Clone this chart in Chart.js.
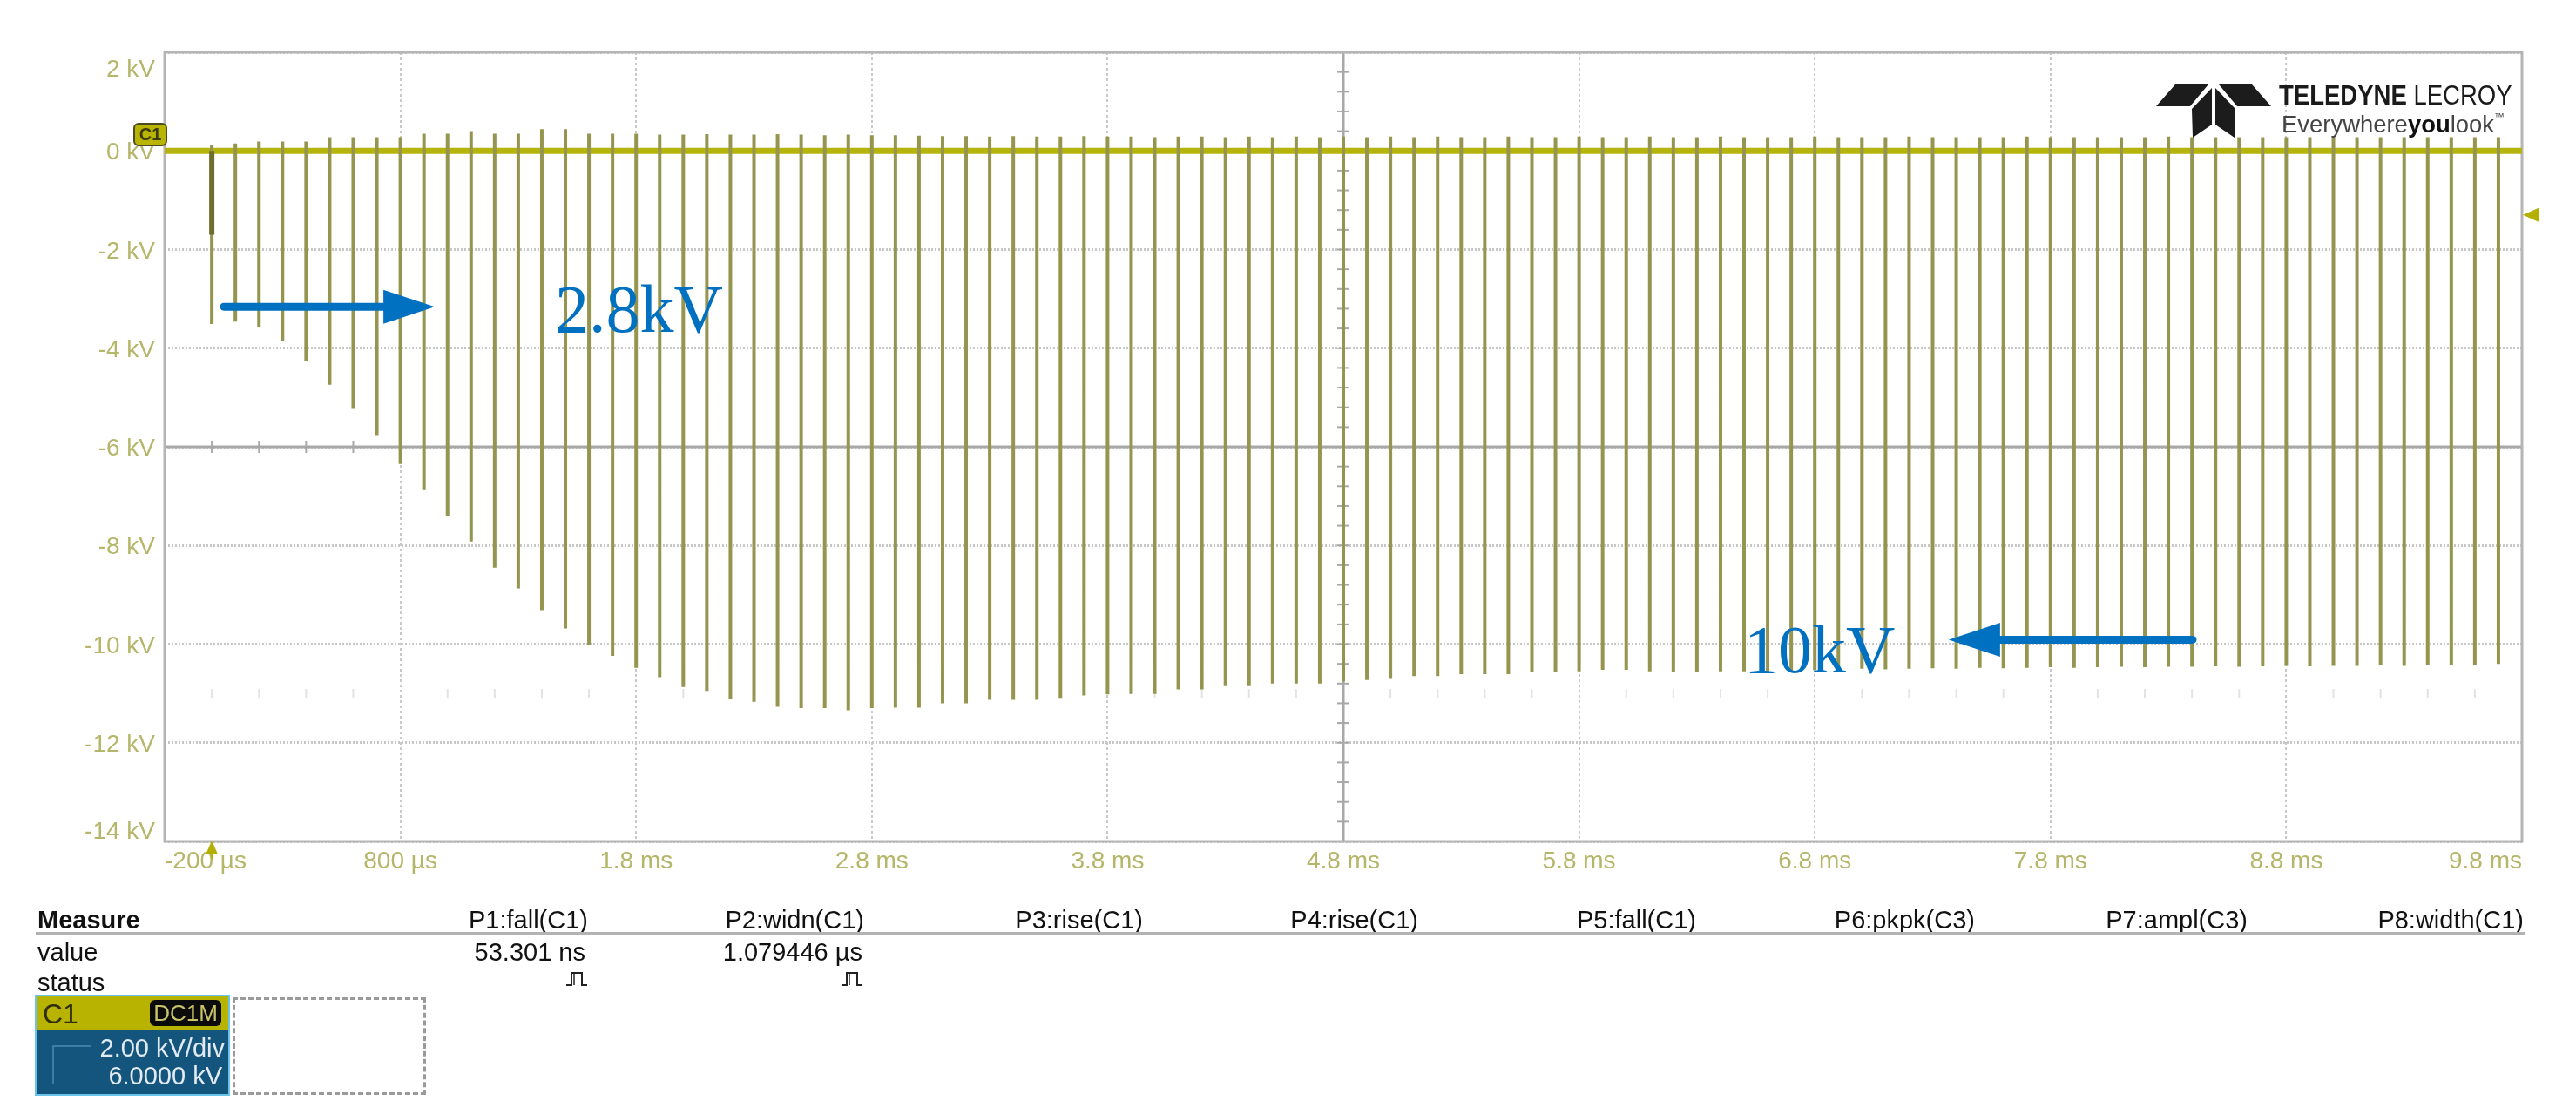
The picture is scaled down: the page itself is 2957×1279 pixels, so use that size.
<!DOCTYPE html>
<html>
<head>
<meta charset="utf-8">
<title>Pulse train C1</title>
<script src="https://cdn.jsdelivr.net/npm/chart.js@4.4.1/dist/chart.umd.min.js"></script>
<style>
  html, body { margin: 0; padding: 0; background: #ffffff; }
  #wrap { position: relative; width: 2957px; height: 1279px; overflow: hidden; background: #fff;
          font-family: "Liberation Sans", Arial, sans-serif; }
  #c { position: absolute; left: 0; top: 0; }
  .abs { position: absolute; white-space: nowrap; line-height: 1; }
  .t29 { font-size: 29px; color: #111; }
  .r { text-align: right; }
</style>
</head>
<body>
<div id="wrap">
  <canvas id="c" width="2957" height="1279"></canvas>

  <!-- channel badge on the 0 kV level -->
  <div class="abs" style="left:153px;top:141px;width:35px;height:23px;background:#b8b400;border:2px solid #4d4b22;border-radius:6px;font-size:20px;font-weight:bold;color:#3b3a12;text-align:center;line-height:23px;">C1</div>

  <!-- logo -->
  <svg class="abs" style="left:2470px;top:94px" width="145" height="70" viewBox="2470 94 145 70">
    <polygon points="2497,97 2535,97 2514,122 2475,122" fill="#1c1c1c"/>
    <polygon points="2547,97 2585,97 2607,122 2568,122" fill="#1c1c1c"/>
    <polygon points="2516,125 2539,101 2539,143 2517,158" fill="#1c1c1c"/>
    <polygon points="2543,101 2566,125 2565,158 2543,143" fill="#1c1c1c"/>
  </svg>
  <div class="abs" style="left:2616px;top:93px;font-size:32px;color:#1a1a1a;transform:scaleX(0.86);transform-origin:left top;">
    <b>TELEDYNE</b> LECROY</div>
  <div class="abs" style="left:2619px;top:128px;font-size:28px;color:#444;transform:scaleX(0.98);transform-origin:left top;">Everywhere<b style="color:#111">you</b>look<span style="font-size:12px;vertical-align:14px;">™</span></div>

  <!-- measure table -->
  <div class="abs t29" style="left:43px;top:1042px;font-weight:bold;">Measure</div>
  <div class="abs t29 r" style="right:2282px;top:1042px;">P1:fall(C1)</div>
  <div class="abs t29 r" style="right:1965px;top:1042px;">P2:widn(C1)</div>
  <div class="abs t29 r" style="right:1645px;top:1042px;">P3:rise(C1)</div>
  <div class="abs t29 r" style="right:1329px;top:1042px;">P4:rise(C1)</div>
  <div class="abs t29 r" style="right:1010px;top:1042px;">P5:fall(C1)</div>
  <div class="abs t29 r" style="right:690px;top:1042px;">P6:pkpk(C3)</div>
  <div class="abs t29 r" style="right:377px;top:1042px;">P7:ampl(C3)</div>
  <div class="abs t29 r" style="right:60px;top:1042px;">P8:width(C1)</div>
  <div class="abs" style="left:41px;top:1070px;width:2858px;height:3px;background:#b3b3b3;"></div>
  <div class="abs t29" style="left:43px;top:1079px;">value</div>
  <div class="abs t29 r" style="right:2285px;top:1079px;">53.301 ns</div>
  <div class="abs t29 r" style="right:1967px;top:1079px;">1.079446 µs</div>
  <div class="abs t29" style="left:43px;top:1114px;">status</div>
  <svg class="abs" style="left:649px;top:1114px" width="26" height="20" viewBox="0 0 26 20">
    <polyline points="1,17 7,17 7,3 19,3 19,17 25,17" fill="none" stroke="#222" stroke-width="2"/>
    <line x1="10" y1="3" x2="10" y2="17" stroke="#222" stroke-width="1.5"/>
  </svg>
  <svg class="abs" style="left:965px;top:1114px" width="26" height="20" viewBox="0 0 26 20">
    <polyline points="1,17 7,17 7,3 19,3 19,17 25,17" fill="none" stroke="#222" stroke-width="2"/>
    <line x1="10" y1="3" x2="10" y2="17" stroke="#222" stroke-width="1.5"/>
  </svg>

  <!-- channel descriptor box -->
  <div class="abs" style="left:40px;top:1142px;width:220px;height:112px;border:2px solid #6cc3ea;background:#14557d;"></div>
  <div class="abs" style="left:42px;top:1144px;width:220px;height:38px;background:#b7b300;"></div>
  <div class="abs" style="left:49px;top:1148px;font-size:32px;color:#2f2e10;">C1</div>
  <div class="abs" style="left:172px;top:1148px;width:82px;height:30px;background:#0b0b0b;border-radius:6px;color:#c9c46a;font-size:26px;text-align:center;line-height:30px;">DC1M</div>
  <div class="abs" style="left:60px;top:1200px;width:44px;height:2px;background:#3f7ea4;"></div>
  <div class="abs" style="left:60px;top:1200px;width:2px;height:44px;background:#3f7ea4;"></div>
  <div class="abs r" style="right:2699px;top:1189px;font-size:29px;color:#e3ebf2;">2.00 kV/div</div>
  <div class="abs r" style="right:2702px;top:1221px;font-size:29px;color:#e3ebf2;">6.0000 kV</div>
  <div class="abs" style="left:267px;top:1145px;width:216px;height:106px;border:3px dashed #9a9a9a;"></div>
</div>

<script>
// ---------------- data ----------------
const xTickValues = [-0.2, 0.8, 1.8, 2.8, 3.8, 4.8, 5.8, 6.8, 7.8, 8.8, 9.8];            // ms
const xTickLabels = ['-200 µs', '800 µs', '1.8 ms', '2.8 ms', '3.8 ms', '4.8 ms',
                     '5.8 ms', '6.8 ms', '7.8 ms', '8.8 ms', '9.8 ms'];
const yTickValues = [2, 0, -2, -4, -6, -8, -10, -12, -14];                                 // kV
const yTickLabels = ['2 kV', '0 kV', '-2 kV', '-4 kV', '-6 kV', '-8 kV', '-10 kV', '-12 kV', '-14 kV'];

// pulse instants (ms)
const pulseTimes = [
  0.0, 0.1, 0.2, 0.3, 0.4, 0.5, 0.6, 0.7, 0.8, 0.9,
  1.0, 1.1, 1.2, 1.3, 1.4, 1.5, 1.6, 1.7, 1.8, 1.9,
  2.0, 2.1, 2.2, 2.3, 2.4, 2.5, 2.6, 2.7, 2.8, 2.9,
  3.0, 3.1, 3.2, 3.3, 3.4, 3.5, 3.6, 3.7, 3.8, 3.9,
  4.0, 4.1, 4.2, 4.3, 4.4, 4.5, 4.6, 4.7, 4.8, 4.9,
  5.0, 5.1, 5.2, 5.3, 5.4, 5.5, 5.6, 5.7, 5.8, 5.9,
  6.0, 6.1, 6.2, 6.3, 6.4, 6.5, 6.6, 6.7, 6.8, 6.9,
  7.0, 7.1, 7.2, 7.3, 7.4, 7.5, 7.6, 7.7, 7.8, 7.9,
  8.0, 8.1, 8.2, 8.3, 8.4, 8.5, 8.6, 8.7, 8.8, 8.9,
  9.0, 9.1, 9.2, 9.3, 9.4, 9.5, 9.6, 9.7
];
// negative peak of each pulse (kV)
const pulseMinima = [
  -3.51, -3.46, -3.57, -3.85, -4.26, -4.74, -5.23, -5.78, -6.35, -6.88,
  -7.40, -7.92, -8.45, -8.87, -9.31, -9.68, -10.01, -10.24, -10.48, -10.67,
  -10.87, -10.95, -11.11, -11.17, -11.27, -11.30, -11.30, -11.34, -11.30, -11.29,
  -11.29, -11.20, -11.20, -11.13, -11.13, -11.13, -11.09, -11.04, -11.02, -11.01,
  -11.01, -10.92, -10.92, -10.85, -10.85, -10.80, -10.80, -10.80, -10.76, -10.73,
  -10.69, -10.65, -10.65, -10.61, -10.61, -10.61, -10.56, -10.56, -10.55, -10.52,
  -10.52, -10.55, -10.56, -10.57, -10.55, -10.55, -10.56, -10.54, -10.53, -10.52,
  -10.50, -10.51, -10.50, -10.49, -10.50, -10.48, -10.49, -10.48, -10.47, -10.48,
  -10.47, -10.46, -10.47, -10.46, -10.46, -10.45, -10.46, -10.45, -10.44, -10.45,
  -10.44, -10.44, -10.43, -10.44, -10.43, -10.42, -10.42, -10.40
];
// small positive overshoot of each pulse (kV)
const pulseOvershoot = [
  0.12, 0.15, 0.19, 0.19, 0.19, 0.28, 0.28, 0.28, 0.28, 0.35,
  0.35, 0.40, 0.35, 0.35, 0.44, 0.44, 0.35, 0.35, 0.35, 0.33,
  0.33, 0.34, 0.33, 0.33, 0.34, 0.33, 0.32, 0.33, 0.32, 0.32,
  0.31, 0.30, 0.30, 0.29, 0.30, 0.29, 0.29, 0.30, 0.29, 0.29,
  0.28, 0.29, 0.29, 0.28, 0.29, 0.28, 0.29, 0.28, 0.29, 0.28,
  0.29, 0.28, 0.29, 0.28, 0.28, 0.29, 0.28, 0.28, 0.29, 0.28,
  0.28, 0.29, 0.28, 0.28, 0.29, 0.28, 0.28, 0.28, 0.29, 0.28,
  0.28, 0.28, 0.29, 0.28, 0.28, 0.28, 0.28, 0.29, 0.28, 0.28,
  0.28, 0.28, 0.28, 0.29, 0.28, 0.28, 0.28, 0.28, 0.28, 0.28,
  0.28, 0.28, 0.28, 0.28, 0.28, 0.28, 0.28, 0.28
];
// first pulse: darker initial step (kV)
const firstPulseTimes = [0.0, 0.0];
const firstPulseValues = [0.0, -1.70];
// trace baseline
const baselineTimes = [-0.2, 9.8];
const baselineValues = [0, 0];
// scope markers
const triggerLevel = -1.3;   // kV, right edge marker
const triggerTime = 0.0;     // ms, bottom edge marker
const centerTime = 4.8;      // ms
const centerLevel = -6;      // kV
const faintLevel = -11;      // kV
// annotations (data coordinates)
const arrowFrom = [[0.051, -3.16], [8.403, -9.91]];
const arrowTo   = [[0.946, -3.16], [7.368, -9.91]];
const noteText  = ['2.8kV', '10kV'];
const noteAt    = [[1.456, -3.67], [6.50, -10.57]];

// ---------------- datasets ----------------
const pulseData = [];
pulseTimes.forEach((t, i) => {
  pulseData.push({x: t, y: pulseOvershoot[i]}, {x: t, y: pulseMinima[i]}, {x: t, y: null});
});
const firstData = firstPulseTimes.map((t, i) => ({x: t, y: firstPulseValues[i]}));
const baseData = baselineTimes.map((t, i) => ({x: t, y: baselineValues[i]}));

const LABEL_COLOR = '#b6b66a';
const SANS = '"Liberation Sans", Arial, sans-serif';

const scopePlugin = {
  id: 'scope',
  beforeDatasetsDraw(chart) {
    const {ctx, chartArea: a, scales: {x, y}} = chart;
    const line = (x1, y1, x2, y2) => { ctx.beginPath(); ctx.moveTo(x1, y1); ctx.lineTo(x2, y2); ctx.stroke(); };
    ctx.save();
    const cx = x.getPixelForValue(centerTime);
    const cy = y.getPixelForValue(centerLevel);
    const fy = y.getPixelForValue(faintLevel);
    // faint graticule row
    ctx.strokeStyle = '#e3e3e3'; ctx.lineWidth = 2;
    for (let i = 0; i <= 50; i++) {
      if (i % 5 === 0) continue;
      const px = a.left + (a.right - a.left) * i / 50;
      line(px, fy - 5, px, fy + 5);
    }
    // solid centre axes
    ctx.strokeStyle = '#a8a8a8'; ctx.lineWidth = 3;
    line(cx, a.top, cx, a.bottom);
    line(a.left, cy, a.right, cy);
    ctx.lineWidth = 2;
    for (let i = 0; i <= 50; i++) {
      const px = a.left + (a.right - a.left) * i / 50;
      line(px, cy - 7, px, cy + 7);
    }
    for (let i = 0; i <= 40; i++) {
      const py = a.top + (a.bottom - a.top) * i / 40;
      line(cx - 7, py, cx + 7, py);
    }
    // frame
    ctx.strokeStyle = '#b5b5b5'; ctx.lineWidth = 3;
    ctx.strokeRect(a.left, a.top, a.right - a.left, a.bottom - a.top);
    ctx.restore();
  },
  afterDatasetsDraw(chart) {
    const {ctx, chartArea: a, scales: {x, y}} = chart;
    ctx.save();
    // y tick labels
    ctx.font = '28px ' + SANS;
    ctx.fillStyle = LABEL_COLOR;
    ctx.textAlign = 'right';
    ctx.textBaseline = 'alphabetic';
    yTickValues.forEach((v, i) => {
      const py = y.getPixelForValue(v);
      let off = 10;
      if (i === 0) off = 28;
      if (i === yTickValues.length - 1) off = -3;
      ctx.fillText(yTickLabels[i], a.left - 11, py + off);
    });
    // trigger markers
    ctx.fillStyle = '#b3b000';
    const ty = y.getPixelForValue(triggerLevel);
    ctx.beginPath(); ctx.moveTo(a.right + 1, ty); ctx.lineTo(a.right + 19, ty - 8); ctx.lineTo(a.right + 19, ty + 8); ctx.closePath(); ctx.fill();
    const tx = x.getPixelForValue(triggerTime);
    ctx.beginPath(); ctx.moveTo(tx, a.bottom - 1); ctx.lineTo(tx - 7, a.bottom + 15); ctx.lineTo(tx + 7, a.bottom + 15); ctx.closePath(); ctx.fill();
    ctx.fillRect(tx - 1, a.bottom + 12, 2, 8);
    // annotations
    ctx.fillStyle = '#0070c0'; ctx.strokeStyle = '#0070c0';
    arrowFrom.forEach((f, i) => {
      const x1 = x.getPixelForValue(f[0]), y1 = y.getPixelForValue(f[1]);
      const x2 = x.getPixelForValue(arrowTo[i][0]), y2 = y.getPixelForValue(arrowTo[i][1]);
      const dir = Math.sign(x2 - x1);
      const headLen = 59, half = 19.5;
      ctx.lineWidth = 9; ctx.lineCap = 'round';
      ctx.beginPath(); ctx.moveTo(x1, y1); ctx.lineTo(x2 - dir * (headLen - 4), y2); ctx.stroke();
      ctx.beginPath(); ctx.moveTo(x2, y2); ctx.lineTo(x2 - dir * headLen, y2 - half); ctx.lineTo(x2 - dir * headLen, y2 + half); ctx.closePath(); ctx.fill();
    });
    ctx.font = '78px "Liberation Serif", "Times New Roman", serif';
    ctx.textAlign = 'left'; ctx.textBaseline = 'alphabetic';
    noteText.forEach((s, i) => {
      ctx.fillText(s, x.getPixelForValue(noteAt[i][0]), y.getPixelForValue(noteAt[i][1]));
    });
    ctx.restore();
  }
};

new Chart(document.getElementById('c'), {
  type: 'line',
  data: {
    datasets: [
      { label: 'C1 first step', data: firstData, borderColor: '#6f6d2c', borderWidth: 6, pointRadius: 0 },
      { label: 'C1 pulses', data: pulseData, borderColor: '#95954f', borderWidth: 4, pointRadius: 0, spanGaps: false },
      { label: 'C1 baseline', data: baseData, borderColor: '#b4b40c', borderWidth: 7, pointRadius: 0 }
    ]
  },
  options: {
    responsive: false,
    devicePixelRatio: 1,
    animation: false,
    events: [],
    layout: { padding: { left: 189, right: 62, top: 60, bottom: 253 } },
    plugins: { legend: { display: false }, tooltip: { enabled: false }, title: { display: false } },
    elements: { line: { tension: 0, borderCapStyle: 'butt' }, point: { radius: 0 } },
    scales: {
      x: {
        type: 'linear', position: 'bottom', min: -0.2, max: 9.8,
        afterBuildTicks: s => { s.ticks = xTickValues.map(v => ({ value: v })); },
        afterFit: s => { s.height = 60; },
        ticks: {
          callback: (v, i) => xTickLabels[i], align: 'inner', autoSkip: false, maxRotation: 0,
          color: LABEL_COLOR, font: { family: SANS, size: 28 }, padding: 6
        },
        grid: { color: '#c9c9c9', lineWidth: 2, drawTicks: false },
        border: { display: false, dash: [3, 3] }
      },
      y: {
        type: 'linear', position: 'left', min: -14, max: 2,
        afterBuildTicks: s => { s.ticks = yTickValues.map(v => ({ value: v })); },
        afterFit: s => { s.width = 0; },
        ticks: { display: false },
        grid: { color: '#c7c7c7', lineWidth: 3, drawTicks: false },
        border: { display: false, dash: [2, 2] }
      }
    }
  },
  plugins: [scopePlugin]
});
</script>
</body>
</html>
